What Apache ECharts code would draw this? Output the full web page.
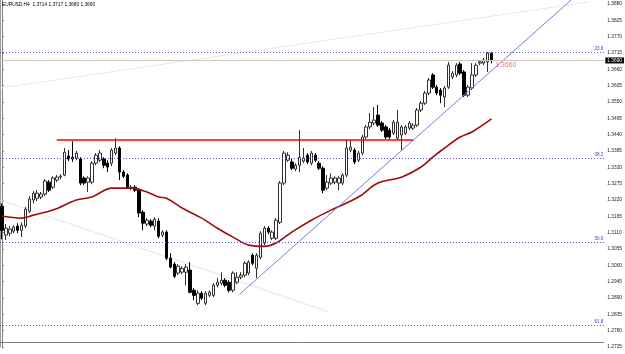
<!DOCTYPE html>
<html><head><meta charset="utf-8">
<script src="https://cdn.jsdelivr.net/npm/echarts@6/dist/echarts.min.js"></script>
<style>html,body{margin:0;padding:0;background:#fff}#c{width:625px;height:354px}</style>
</head><body><div id="c"></div>
<script>
const symbolName = 'EURUSD,H4';
const opens = [1.3199,1.3102,1.3108,1.3115,1.3132,1.3118,1.3132,1.3182,1.3220,1.3226,
1.3230,1.3240,1.3280,1.3263,1.3287,1.3297,1.3304,1.3368,1.3364,1.3361,
1.3358,1.3294,1.3280,1.3280,1.3344,1.3354,1.3358,1.3344,1.3344,1.3378,
1.3395,1.3314,1.3304,1.3260,1.3263,1.3253,1.3179,1.3139,1.3149,1.3132,
1.3149,1.3102,1.3112,1.3024,1.3004,1.2974,1.2977,1.2977,1.2984,1.2916,
1.2872,1.2906,1.2872,1.2899,1.2899,1.2933,1.2940,1.2950,1.2943,1.2916,
1.2943,1.2960,1.2967,1.2974,1.3034,1.2990,1.3027,1.3075,1.3125,1.3091,
1.3091,1.3145,1.3277,1.3354,1.3348,1.3324,1.3337,1.3351,1.3371,1.3344,
1.3371,1.3344,1.3327,1.3260,1.3277,1.3280,1.3277,1.3277,1.3304,1.3388,
1.3388,1.3354,1.3378,1.3432,1.3466,1.3479,1.3506,1.3479,1.3466,1.3455,
1.3445,1.3428,1.3439,1.3445,1.3462,1.3462,1.3472,1.3523,1.3546,1.3580,
1.3641,1.3600,1.3590,1.3567,1.3600,1.3634,1.3641,1.3678,1.3651,1.3573,
1.3597,1.3641,1.3681,1.3681,1.3685,1.3714];
const closes = [1.3118,1.3125,1.3122,1.3129,1.3118,1.3135,1.3189,1.3223,1.3243,1.3243,
1.3240,1.3284,1.3253,1.3294,1.3297,1.3300,1.3381,1.3358,1.3358,1.3378,
1.3277,1.3277,1.3294,1.3344,1.3371,1.3378,1.3337,1.3331,1.3388,1.3395,
1.3314,1.3300,1.3263,1.3263,1.3253,1.3176,1.3142,1.3152,1.3135,1.3155,
1.3098,1.3112,1.3024,1.2994,1.2963,1.2997,1.2990,1.2994,1.2909,1.2899,
1.2906,1.2889,1.2906,1.2909,1.2933,1.2943,1.2950,1.2933,1.2916,1.2974,
1.2960,1.2967,1.3007,1.3011,1.3007,1.3034,1.3108,1.3125,1.3112,1.3112,
1.3152,1.3277,1.3378,1.3371,1.3327,1.3337,1.3364,1.3361,1.3348,1.3378,
1.3354,1.3327,1.3253,1.3280,1.3294,1.3294,1.3294,1.3304,1.3395,1.3398,
1.3348,1.3378,1.3432,1.3466,1.3482,1.3489,1.3472,1.3455,1.3432,1.3432,
1.3482,1.3482,1.3466,1.3466,1.3479,1.3472,1.3523,1.3546,1.3580,1.3624,
1.3600,1.3580,1.3573,1.3597,1.3674,1.3647,1.3674,1.3647,1.3573,1.3600,
1.3641,1.3674,1.3685,1.3691,1.3715,1.3690];
const highs = [1.3209,1.3139,1.3132,1.3135,1.3142,1.3145,1.3196,1.3233,1.3250,1.3253,
1.3247,1.3290,1.3287,1.3300,1.3304,1.3307,1.3395,1.3388,1.3418,1.3385,
1.3364,1.3300,1.3300,1.3351,1.3378,1.3388,1.3364,1.3354,1.3395,1.3428,
1.3401,1.3321,1.3310,1.3270,1.3270,1.3260,1.3186,1.3159,1.3155,1.3162,
1.3159,1.3118,1.3118,1.3041,1.3011,1.3004,1.2997,1.3004,1.3011,1.2923,
1.2916,1.2913,1.2913,1.2916,1.2940,1.2957,1.2977,1.2957,1.2950,1.2980,
1.2977,1.2977,1.3014,1.3017,1.3041,1.3041,1.3115,1.3132,1.3132,1.3118,
1.3159,1.3284,1.3385,1.3381,1.3361,1.3344,1.3455,1.3395,1.3378,1.3385,
1.3378,1.3351,1.3334,1.3304,1.3310,1.3300,1.3300,1.3310,1.3422,1.3422,
1.3395,1.3385,1.3439,1.3472,1.3513,1.3533,1.3540,1.3486,1.3472,1.3462,
1.3489,1.3523,1.3472,1.3472,1.3486,1.3479,1.3530,1.3553,1.3587,1.3631,
1.3647,1.3607,1.3597,1.3604,1.3685,1.3654,1.3681,1.3685,1.3658,1.3607,
1.3681,1.3681,1.3691,1.3698,1.3718,1.3717];
const lows = [1.3088,1.3085,1.3098,1.3108,1.3108,1.3095,1.3125,1.3176,1.3209,1.3216,
1.3223,1.3233,1.3247,1.3257,1.3280,1.3290,1.3300,1.3351,1.3348,1.3354,
1.3270,1.3270,1.3247,1.3273,1.3337,1.3348,1.3327,1.3314,1.3334,1.3371,
1.3287,1.3294,1.3257,1.3253,1.3247,1.3162,1.3118,1.3132,1.3129,1.3118,
1.3091,1.3095,1.3017,1.2990,1.2957,1.2967,1.2970,1.2933,1.2906,1.2883,
1.2866,1.2883,1.2866,1.2893,1.2893,1.2926,1.2933,1.2926,1.2909,1.2909,
1.2936,1.2953,1.2960,1.2967,1.3000,1.2957,1.3021,1.3068,1.3105,1.3085,
1.3085,1.3139,1.3270,1.3348,1.3321,1.3317,1.3314,1.3344,1.3341,1.3337,
1.3348,1.3321,1.3243,1.3253,1.3270,1.3273,1.3253,1.3270,1.3297,1.3381,
1.3341,1.3348,1.3371,1.3425,1.3459,1.3472,1.3466,1.3449,1.3425,1.3425,
1.3439,1.3422,1.3388,1.3439,1.3455,1.3455,1.3466,1.3516,1.3540,1.3573,
1.3594,1.3573,1.3546,1.3533,1.3594,1.3627,1.3634,1.3641,1.3567,1.3567,
1.3590,1.3634,1.3674,1.3674,1.3651,1.3680];

// moving average, read at sampled bars (bar index, price)
const maIndex = [0,5,8,13,19,23,28,33,37,40,42,46,51,55,59,63,67,70,74,79,84,91,96,102,107,110,112,117,120,125];
const maValues = [1.3166,1.3159,1.3169,1.3186,1.3220,1.3230,1.3260,1.3260,1.3247,1.3230,1.3226,1.3193,1.3159,1.3125,1.3095,1.3068,1.3064,1.3075,1.3112,1.3152,1.3186,1.3230,1.3277,1.3297,1.3331,1.3364,1.3385,1.3432,1.3449,1.3493];

const priceTicks = [1.2725,1.2780,1.2835,1.2890,1.2945,1.3000,1.3055,1.3110,1.3165,1.3220,1.3275,1.3330,1.3385,1.3440,1.3495,1.3550,1.3605,1.3660,1.3715,1.3770,1.3825,1.3880];
const fibLevels = [1.3716,1.3361,1.3078,1.2799];
const fibLabels = ['23.6','38.2','50.0','61.8'];
const resistanceFrom = 14, resistanceTo = 105, resistancePrice = 1.3422;
const trendLine = [[60.7,1.2903],[151.1,1.3961]];
const faintLineA = [[-0.5,1.3220],[83.7,1.2842]];
const faintLineB = [[-0.5,1.3597],[150,1.3887]];
const bidPrice = 1.3690;
const noteText = '1.3660';
const notePoint = [126,1.3674];
const chartBottomPrice = 1.2741;

const last = opens.length - 1;
const font = '"Liberation Sans", Arial, sans-serif';
const candleData = opens.map((o,i)=>[i,o,closes[i],lows[i],highs[i]]);
const maData = maIndex.map((x,k)=>[x,maValues[k]]);

const chart = echarts.init(document.getElementById('c'), null, {renderer:'canvas'});
chart.setOption({
  animation:false,
  backgroundColor:'#ffffff',
  title:{text:`${symbolName}  ${opens[last].toFixed(4)} ${highs[last].toFixed(4)} ${lows[last].toFixed(4)} ${closes[last].toFixed(4)}`,
    left:2, top:2.5, padding:0,
    textStyle:{fontSize:4.8, fontWeight:'normal', color:'#000', fontFamily:font}},
  grid:{left:0, right:20, top:0, bottom:7, containLabel:false},
  xAxis:{type:'value', min:-0.5, max:153.8, show:false},
  yAxis:[{type:'value', position:'right', min:1.2725, max:1.38935, scale:true,
      splitLine:{show:false},
      axisLine:{show:true, lineStyle:{color:'#7f7f7f', width:1}},
      axisTick:{show:true, length:2, customValues:priceTicks, lineStyle:{color:'#7f7f7f'}},
      axisLabel:{customValues:priceTicks, formatter:v=>v.toFixed(4), fontSize:4.8, color:'#222', margin:3, fontFamily:font}},
    {type:'value', position:'left', min:1.2725, max:1.38935, scale:true,
      splitLine:{show:false}, axisTick:{show:false}, axisLabel:{show:false},
      axisLine:{show:true, lineStyle:{color:'#9a9a9a', width:1}}}],
  series:[
    {type:'line', data:faintLineA, symbol:'none', silent:true, z:1, lineStyle:{color:'#e4e4e4', width:1}},
    {type:'line', data:faintLineB, symbol:'none', silent:true, z:1, lineStyle:{color:'#e8e8e8', width:1}},
    {type:'line', data:[], symbol:'none', silent:true, z:2,
      markLine:{symbol:'none', silent:true, precision:6, animation:false,
        data:[
          ...fibLevels.map((v,k)=>({yAxis:v,
            lineStyle:{color:'#5a5ad6', type:[1,2], width:1},
            label:{show:true, position:'insideEndTop', formatter:fibLabels[k], color:'#4646c4', fontSize:4.6, distance:1, fontFamily:font}})),
          {yAxis:bidPrice, lineStyle:{color:'#c8c8c8', type:'solid', width:1},
            label:{show:true, position:'end', formatter:bidPrice.toFixed(4), backgroundColor:'#000', color:'#fff', fontSize:4.8, padding:[1,2,0,2], distance:1, fontFamily:font}},
          {yAxis:chartBottomPrice, lineStyle:{color:'#7f7f7f', type:'solid', width:1}, label:{show:false}},
          [{coord:[resistanceFrom,resistancePrice], lineStyle:{color:'#ff0000', width:1.5, type:'solid'}, label:{show:false}},
           {coord:[resistanceTo,resistancePrice]}]
        ]}},
    {type:'candlestick', data:candleData, barWidth:3, z:3,
      itemStyle:{color:'#ffffff', color0:'#000000', borderColor:'#303030', borderColor0:'#000000', borderWidth:1}},
    {type:'line', data:maData, smooth:0.35, symbol:'none', z:4, lineStyle:{color:'#a00c0c', width:1.6}},
    {type:'line', data:trendLine, symbol:'none', z:4, lineStyle:{color:'#7c7cdc', width:1}},
    {type:'scatter', data:[notePoint], symbolSize:0, z:5,
      label:{show:true, formatter:noteText, position:'right', distance:0, color:'#f04848', fontSize:6.8, fontFamily:font}}
  ]
});
</script>
</body></html>
